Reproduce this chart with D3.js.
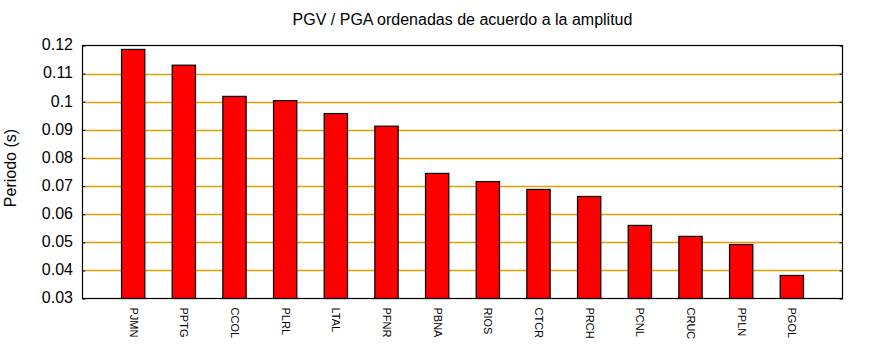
<!DOCTYPE html>
<html>
<head>
<meta charset="utf-8">
<script src="https://cdn.jsdelivr.net/npm/d3@7"></script>
<style>
  html, body { margin: 0; padding: 0; background: #fff; }
  svg { display: block; font-family: "Liberation Sans", Arial, sans-serif; }
</style>
</head>
<body>
<svg id="chart" width="870" height="350"></svg>
<script>
// Stations sorted by PGV/PGA period
const stations = ["PJMN", "PPTG", "CCOL", "PLRL", "LTAL", "PFNR", "PBNA",
                  "RIOS", "CTCR", "PRCH", "PCNL", "CRUC", "PPLN", "PGOL"];
const periods = [0.1186, 0.1130, 0.1019, 0.1004, 0.0958, 0.0913, 0.0745,
                 0.0716, 0.0688, 0.0663, 0.0560, 0.0521, 0.0492, 0.0382];
const yTicks = [0.03, 0.04, 0.05, 0.06, 0.07, 0.08, 0.09, 0.10, 0.11, 0.12];
const yTickLabels = ["0.03", "0.04", "0.05", "0.06", "0.07", "0.08", "0.09", "0.1", "0.11", "0.12"];

const title = "PGV / PGA ordenadas de acuerdo a la amplitud";
const yTitle = "Periodo (s)";

const svg = d3.select("#chart");
const plot = { left: 82.5, right: 842.5, top: 45.5, bottom: 298.5 };

const x = d3.scalePoint()
  .domain(stations)
  .range([plot.left, plot.right])
  .padding(1);
const barW = x.step() * 0.46;

const y = d3.scaleLinear()
  .domain([0.03, 0.12])
  .range([plot.bottom, plot.top]);

// Horizontal grid lines
svg.append("g")
  .selectAll("line")
  .data(yTicks.slice(1, -1))
  .join("line")
  .attr("x1", plot.left + 3)
  .attr("x2", plot.right - 3)
  .attr("y1", d => Math.round(y(d)) + 0.5)
  .attr("y2", d => Math.round(y(d)) + 0.5)
  .attr("stroke", "#e0a000")
  .attr("stroke-width", 1.3);

// Bars
svg.append("g")
  .selectAll("rect")
  .data(stations)
  .join("rect")
  .attr("x", (d) => x(d) - barW / 2)
  .attr("width", barW)
  .attr("y", (d, i) => y(periods[i]))
  .attr("height", (d, i) => y(0.03) - y(periods[i]))
  .attr("fill", "#ff0000")
  .attr("stroke", "#000")
  .attr("stroke-width", 1.2);

// Frame
svg.append("rect")
  .attr("x", plot.left)
  .attr("y", plot.top)
  .attr("width", plot.right - plot.left)
  .attr("height", plot.bottom - plot.top)
  .attr("fill", "none")
  .attr("stroke", "#000")
  .attr("stroke-width", 1.2);

// Left axis with inward ticks
const yAxisL = d3.axisLeft(y)
  .tickValues(yTicks)
  .tickFormat((d, i) => yTickLabels[i])
  .tickSizeInner(-3)
  .tickSizeOuter(0)
  .tickPadding(9.5);
const gL = svg.append("g")
  .attr("transform", `translate(${plot.left},0)`)
  .call(yAxisL);
gL.select(".domain").remove();
gL.selectAll("line").attr("stroke", "#000").attr("stroke-width", 1.2);
gL.selectAll("text")
  .attr("font-size", 16)
  .attr("dy", "0.27em")
  .attr("font-family", "Liberation Sans, Arial, sans-serif")
  .attr("fill", "#000");

// Right axis ticks only
const yAxisR = d3.axisRight(y)
  .tickValues(yTicks)
  .tickFormat("")
  .tickSizeInner(-3)
  .tickSizeOuter(0);
const gR = svg.append("g")
  .attr("transform", `translate(${plot.right},0)`)
  .call(yAxisR);
gR.select(".domain").remove();
gR.selectAll("line").attr("stroke", "#000").attr("stroke-width", 1.2);

// Bottom station labels, rotated
const xAxis = d3.axisBottom(x).tickSize(0).tickPadding(0);
const gX = svg.append("g")
  .attr("transform", `translate(0,${plot.bottom})`)
  .call(xAxis);
gX.select(".domain").remove();
gX.selectAll("text")
  .attr("font-size", 11)
  .attr("font-family", "Liberation Sans, Arial, sans-serif")
  .attr("fill", "#000")
  .attr("text-anchor", "start")
  .attr("dy", null)
  .attr("y", 0)
  .attr("transform", "translate(-4,9) rotate(90)");

// Title
svg.append("text")
  .attr("x", (plot.left + plot.right) / 2)
  .attr("y", 25)
  .attr("text-anchor", "middle")
  .attr("font-size", 16)
  .text(title);

// Y axis title
svg.append("text")
  .attr("transform", `translate(16,168) rotate(-90)`)
  .attr("text-anchor", "middle")
  .attr("font-size", 16)
  .text(yTitle);
</script>
</body>
</html>
